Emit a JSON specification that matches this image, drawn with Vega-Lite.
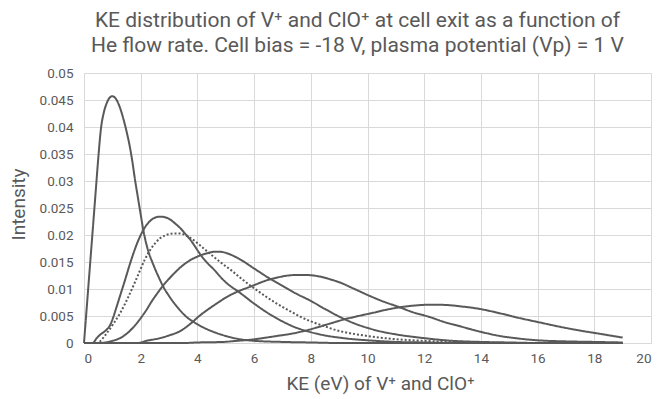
{
  "$schema": "https://vega.github.io/schema/vega-lite/v6.json",
  "width": 567,
  "height": 270,
  "autosize": "none",
  "padding": {"left": 84, "top": 73, "right": 8, "bottom": 56},
  "background": "white",
  "title": {
    "text": ["KE distribution of V⁺ and ClO⁺ at cell exit as a function of", "He flow rate. Cell bias = -18 V, plasma potential (Vp) = 1 V"],
    "font": "Roboto",
    "fontSize": 21,
    "fontWeight": 400,
    "color": "#595959",
    "lineHeight": 25,
    "anchor": "middle",
    "frame": "group",
    "dx": -10,
    "offset": 10
  },
  "config": {
    "view": {"stroke": null},
    "axis": {
      "labelFont": "Roboto",
      "titleFont": "Roboto",
      "labelColor": "#595959",
      "titleColor": "#595959",
      "labelFontSize": 13.5,
      "titleFontSize": 19,
      "titleFontWeight": 400,
      "gridColor": "#d9d9d9",
      "domainColor": "#d9d9d9",
      "ticks": false
    }
  },
  "data": {
    "values": [
      {"series": "A", "ke": 0, "intensity": 0},
      {"series": "A", "ke": 0.1, "intensity": 0.0068},
      {"series": "A", "ke": 0.2, "intensity": 0.0136},
      {"series": "A", "ke": 0.3, "intensity": 0.0204},
      {"series": "A", "ke": 0.4, "intensity": 0.0272},
      {"series": "A", "ke": 0.5, "intensity": 0.034},
      {"series": "A", "ke": 0.6, "intensity": 0.0398},
      {"series": "A", "ke": 0.7, "intensity": 0.0427},
      {"series": "A", "ke": 0.8, "intensity": 0.0444},
      {"series": "A", "ke": 0.9, "intensity": 0.0454},
      {"series": "A", "ke": 1.0, "intensity": 0.0457},
      {"series": "A", "ke": 1.1, "intensity": 0.0454},
      {"series": "A", "ke": 1.2, "intensity": 0.0445},
      {"series": "A", "ke": 1.3, "intensity": 0.0431},
      {"series": "A", "ke": 1.4, "intensity": 0.0413},
      {"series": "A", "ke": 1.5, "intensity": 0.0392},
      {"series": "A", "ke": 1.6, "intensity": 0.0368},
      {"series": "A", "ke": 1.7, "intensity": 0.0338},
      {"series": "A", "ke": 1.8, "intensity": 0.0302},
      {"series": "A", "ke": 1.9, "intensity": 0.027},
      {"series": "A", "ke": 2.0, "intensity": 0.0238},
      {"series": "A", "ke": 2.1, "intensity": 0.0207},
      {"series": "A", "ke": 2.2, "intensity": 0.0183},
      {"series": "A", "ke": 2.3, "intensity": 0.0165},
      {"series": "A", "ke": 2.4, "intensity": 0.0151},
      {"series": "A", "ke": 2.5, "intensity": 0.0138},
      {"series": "A", "ke": 2.6, "intensity": 0.0126},
      {"series": "A", "ke": 2.8, "intensity": 0.0104},
      {"series": "A", "ke": 3.0, "intensity": 0.0087},
      {"series": "A", "ke": 3.3, "intensity": 0.0066},
      {"series": "A", "ke": 3.6, "intensity": 0.0049},
      {"series": "A", "ke": 3.9, "intensity": 0.0038},
      {"series": "A", "ke": 4.2, "intensity": 0.0029},
      {"series": "A", "ke": 4.5, "intensity": 0.0022},
      {"series": "A", "ke": 5.0, "intensity": 0.0013},
      {"series": "A", "ke": 5.5, "intensity": 0.0007},
      {"series": "A", "ke": 6.0, "intensity": 0.0004},
      {"series": "A", "ke": 7.0, "intensity": 0.0002},
      {"series": "A", "ke": 8.0, "intensity": 0.0001},
      {"series": "A", "ke": 9.0, "intensity": 0},
      {"series": "A", "ke": 19.0, "intensity": 0},

      {"series": "B", "ke": 0, "intensity": 0},
      {"series": "B", "ke": 0.3, "intensity": 0},
      {"series": "B", "ke": 0.45, "intensity": 0.0009},
      {"series": "B", "ke": 0.56, "intensity": 0.0015},
      {"series": "B", "ke": 0.74, "intensity": 0.0022},
      {"series": "B", "ke": 0.92, "intensity": 0.0033},
      {"series": "B", "ke": 1.04, "intensity": 0.0049},
      {"series": "B", "ke": 1.15, "intensity": 0.0067},
      {"series": "B", "ke": 1.3, "intensity": 0.0092},
      {"series": "B", "ke": 1.45, "intensity": 0.0117},
      {"series": "B", "ke": 1.6, "intensity": 0.0143},
      {"series": "B", "ke": 1.75, "intensity": 0.0167},
      {"series": "B", "ke": 1.9, "intensity": 0.0188},
      {"series": "B", "ke": 2.03, "intensity": 0.0203},
      {"series": "B", "ke": 2.2, "intensity": 0.0218},
      {"series": "B", "ke": 2.35, "intensity": 0.0227},
      {"series": "B", "ke": 2.5, "intensity": 0.0232},
      {"series": "B", "ke": 2.68, "intensity": 0.0234},
      {"series": "B", "ke": 2.85, "intensity": 0.0233},
      {"series": "B", "ke": 3.03, "intensity": 0.0229},
      {"series": "B", "ke": 3.2, "intensity": 0.0222},
      {"series": "B", "ke": 3.39, "intensity": 0.0213},
      {"series": "B", "ke": 3.56, "intensity": 0.0203},
      {"series": "B", "ke": 3.74, "intensity": 0.0192},
      {"series": "B", "ke": 3.9, "intensity": 0.018},
      {"series": "B", "ke": 4.09, "intensity": 0.0165},
      {"series": "B", "ke": 4.3, "intensity": 0.0151},
      {"series": "B", "ke": 4.62, "intensity": 0.0134},
      {"series": "B", "ke": 4.8, "intensity": 0.0123},
      {"series": "B", "ke": 5.1, "intensity": 0.0108},
      {"series": "B", "ke": 5.45, "intensity": 0.0095},
      {"series": "B", "ke": 6.0, "intensity": 0.0073},
      {"series": "B", "ke": 6.5, "intensity": 0.0055},
      {"series": "B", "ke": 7.0, "intensity": 0.004},
      {"series": "B", "ke": 7.5, "intensity": 0.0028},
      {"series": "B", "ke": 8.0, "intensity": 0.002},
      {"series": "B", "ke": 8.5, "intensity": 0.0014},
      {"series": "B", "ke": 9.0, "intensity": 0.001},
      {"series": "B", "ke": 9.5, "intensity": 0.0007},
      {"series": "B", "ke": 10.0, "intensity": 0.0005},
      {"series": "B", "ke": 11.0, "intensity": 0.0002},
      {"series": "B", "ke": 12.0, "intensity": 0.0001},
      {"series": "B", "ke": 13.0, "intensity": 0},
      {"series": "B", "ke": 19.0, "intensity": 0},

      {"series": "C", "ke": 0, "intensity": 0},
      {"series": "C", "ke": 0.45, "intensity": 0},
      {"series": "C", "ke": 0.8, "intensity": 0.0018},
      {"series": "C", "ke": 1.04, "intensity": 0.0036},
      {"series": "C", "ke": 1.27, "intensity": 0.0055},
      {"series": "C", "ke": 1.56, "intensity": 0.0085},
      {"series": "C", "ke": 1.8, "intensity": 0.0113},
      {"series": "C", "ke": 1.98, "intensity": 0.0135},
      {"series": "C", "ke": 2.15, "intensity": 0.0155},
      {"series": "C", "ke": 2.33, "intensity": 0.0172},
      {"series": "C", "ke": 2.5, "intensity": 0.0184},
      {"series": "C", "ke": 2.68, "intensity": 0.0194},
      {"series": "C", "ke": 2.85, "intensity": 0.0199},
      {"series": "C", "ke": 3.03, "intensity": 0.0202},
      {"series": "C", "ke": 3.2, "intensity": 0.0203},
      {"series": "C", "ke": 3.39, "intensity": 0.0203},
      {"series": "C", "ke": 3.56, "intensity": 0.02},
      {"series": "C", "ke": 3.74, "intensity": 0.0195},
      {"series": "C", "ke": 4.0, "intensity": 0.0185},
      {"series": "C", "ke": 4.2, "intensity": 0.0176},
      {"series": "C", "ke": 4.5, "intensity": 0.0163},
      {"series": "C", "ke": 4.8, "intensity": 0.015},
      {"series": "C", "ke": 5.21, "intensity": 0.0134},
      {"series": "C", "ke": 5.6, "intensity": 0.0117},
      {"series": "C", "ke": 6.09, "intensity": 0.0098},
      {"series": "C", "ke": 6.5, "intensity": 0.0083},
      {"series": "C", "ke": 6.8, "intensity": 0.0073},
      {"series": "C", "ke": 7.2, "intensity": 0.0061},
      {"series": "C", "ke": 7.62, "intensity": 0.0049},
      {"series": "C", "ke": 8.0, "intensity": 0.004},
      {"series": "C", "ke": 8.44, "intensity": 0.0032},
      {"series": "C", "ke": 8.7, "intensity": 0.0027},
      {"series": "C", "ke": 9.03, "intensity": 0.0022},
      {"series": "C", "ke": 9.5, "intensity": 0.0017},
      {"series": "C", "ke": 10.0, "intensity": 0.0013},
      {"series": "C", "ke": 11.0, "intensity": 0.0007},
      {"series": "C", "ke": 12.0, "intensity": 0.0004},
      {"series": "C", "ke": 13.0, "intensity": 0.0002},
      {"series": "C", "ke": 14.0, "intensity": 0.0001},
      {"series": "C", "ke": 15.0, "intensity": 0},
      {"series": "C", "ke": 19.0, "intensity": 0},

      {"series": "D", "ke": 0, "intensity": 0},
      {"series": "D", "ke": 0.56, "intensity": 0},
      {"series": "D", "ke": 1.0, "intensity": 0.0004},
      {"series": "D", "ke": 1.27, "intensity": 0.0009},
      {"series": "D", "ke": 1.5, "intensity": 0.0017},
      {"series": "D", "ke": 1.74, "intensity": 0.0029},
      {"series": "D", "ke": 2.0, "intensity": 0.0046},
      {"series": "D", "ke": 2.2, "intensity": 0.0061},
      {"series": "D", "ke": 2.4, "intensity": 0.0078},
      {"series": "D", "ke": 2.6, "intensity": 0.0093},
      {"series": "D", "ke": 2.8, "intensity": 0.0107},
      {"series": "D", "ke": 3.0, "intensity": 0.0119},
      {"series": "D", "ke": 3.2, "intensity": 0.013},
      {"series": "D", "ke": 3.4, "intensity": 0.014},
      {"series": "D", "ke": 3.62, "intensity": 0.0149},
      {"series": "D", "ke": 3.8, "intensity": 0.0155},
      {"series": "D", "ke": 4.0, "intensity": 0.016},
      {"series": "D", "ke": 4.2, "intensity": 0.0164},
      {"series": "D", "ke": 4.4, "intensity": 0.0167},
      {"series": "D", "ke": 4.6, "intensity": 0.0169},
      {"series": "D", "ke": 4.8, "intensity": 0.0169},
      {"series": "D", "ke": 5.0, "intensity": 0.0167},
      {"series": "D", "ke": 5.2, "intensity": 0.0163},
      {"series": "D", "ke": 5.5, "intensity": 0.0155},
      {"series": "D", "ke": 6.0, "intensity": 0.0138},
      {"series": "D", "ke": 6.5, "intensity": 0.0121},
      {"series": "D", "ke": 7.0, "intensity": 0.0106},
      {"series": "D", "ke": 7.5, "intensity": 0.0091},
      {"series": "D", "ke": 8.0, "intensity": 0.0078},
      {"series": "D", "ke": 8.5, "intensity": 0.0063},
      {"series": "D", "ke": 9.0, "intensity": 0.0049},
      {"series": "D", "ke": 9.5, "intensity": 0.0037},
      {"series": "D", "ke": 10.0, "intensity": 0.0028},
      {"series": "D", "ke": 10.5, "intensity": 0.0021},
      {"series": "D", "ke": 11.0, "intensity": 0.0016},
      {"series": "D", "ke": 12.0, "intensity": 0.0009},
      {"series": "D", "ke": 13.0, "intensity": 0.0004},
      {"series": "D", "ke": 14.0, "intensity": 0.0002},
      {"series": "D", "ke": 15.0, "intensity": 0.0001},
      {"series": "D", "ke": 16.0, "intensity": 0},
      {"series": "D", "ke": 19.0, "intensity": 0},

      {"series": "E", "ke": 0, "intensity": 0},
      {"series": "E", "ke": 1.9, "intensity": 0},
      {"series": "E", "ke": 2.2, "intensity": 0.0004},
      {"series": "E", "ke": 2.68, "intensity": 0.0009},
      {"series": "E", "ke": 3.0, "intensity": 0.0014},
      {"series": "E", "ke": 3.39, "intensity": 0.0022},
      {"series": "E", "ke": 3.74, "intensity": 0.0035},
      {"series": "E", "ke": 4.09, "intensity": 0.0051},
      {"series": "E", "ke": 4.62, "intensity": 0.0071},
      {"series": "E", "ke": 5.0, "intensity": 0.0084},
      {"series": "E", "ke": 5.45, "intensity": 0.0096},
      {"series": "E", "ke": 5.8, "intensity": 0.0103},
      {"series": "E", "ke": 6.09, "intensity": 0.0109},
      {"series": "E", "ke": 6.5, "intensity": 0.0117},
      {"series": "E", "ke": 6.8, "intensity": 0.0121},
      {"series": "E", "ke": 7.2, "intensity": 0.0125},
      {"series": "E", "ke": 7.5, "intensity": 0.0126},
      {"series": "E", "ke": 7.8, "intensity": 0.0126},
      {"series": "E", "ke": 8.32, "intensity": 0.0123},
      {"series": "E", "ke": 8.68, "intensity": 0.0118},
      {"series": "E", "ke": 9.03, "intensity": 0.0112},
      {"series": "E", "ke": 9.5, "intensity": 0.0101},
      {"series": "E", "ke": 10.0, "intensity": 0.0089},
      {"series": "E", "ke": 10.5, "intensity": 0.0078},
      {"series": "E", "ke": 11.14, "intensity": 0.0066},
      {"series": "E", "ke": 11.6, "intensity": 0.0057},
      {"series": "E", "ke": 12.2, "intensity": 0.0048},
      {"series": "E", "ke": 12.7, "intensity": 0.0039},
      {"series": "E", "ke": 13.26, "intensity": 0.0031},
      {"series": "E", "ke": 13.97, "intensity": 0.0021},
      {"series": "E", "ke": 14.67, "intensity": 0.0013},
      {"series": "E", "ke": 15.38, "intensity": 0.0008},
      {"series": "E", "ke": 16.0, "intensity": 0.0005},
      {"series": "E", "ke": 17.0, "intensity": 0.0003},
      {"series": "E", "ke": 18.0, "intensity": 0.0002},
      {"series": "E", "ke": 19.0, "intensity": 0.0001},

      {"series": "F", "ke": 0, "intensity": 0},
      {"series": "F", "ke": 3.5, "intensity": 0},
      {"series": "F", "ke": 4.0, "intensity": 0.0001},
      {"series": "F", "ke": 4.91, "intensity": 0.0002},
      {"series": "F", "ke": 5.4, "intensity": 0.0004},
      {"series": "F", "ke": 5.86, "intensity": 0.0006},
      {"series": "F", "ke": 6.3, "intensity": 0.0009},
      {"series": "F", "ke": 6.8, "intensity": 0.0013},
      {"series": "F", "ke": 7.3, "intensity": 0.0017},
      {"series": "F", "ke": 7.74, "intensity": 0.0022},
      {"series": "F", "ke": 8.3, "intensity": 0.003},
      {"series": "F", "ke": 8.68, "intensity": 0.0036},
      {"series": "F", "ke": 9.2, "intensity": 0.0044},
      {"series": "F", "ke": 9.6, "intensity": 0.0049},
      {"series": "F", "ke": 10.2, "intensity": 0.0056},
      {"series": "F", "ke": 10.7, "intensity": 0.0062},
      {"series": "F", "ke": 11.26, "intensity": 0.0067},
      {"series": "F", "ke": 11.8, "intensity": 0.007},
      {"series": "F", "ke": 12.3, "intensity": 0.0071},
      {"series": "F", "ke": 12.9, "intensity": 0.007},
      {"series": "F", "ke": 13.26, "intensity": 0.0068},
      {"series": "F", "ke": 13.97, "intensity": 0.0063},
      {"series": "F", "ke": 14.67, "intensity": 0.0055},
      {"series": "F", "ke": 15.38, "intensity": 0.0046},
      {"series": "F", "ke": 16.08, "intensity": 0.0038},
      {"series": "F", "ke": 16.79, "intensity": 0.003},
      {"series": "F", "ke": 17.5, "intensity": 0.0023},
      {"series": "F", "ke": 18.2, "intensity": 0.0017},
      {"series": "F", "ke": 19.0, "intensity": 0.001}
    ]
  },
  "mark": {"type": "line", "interpolate": "monotone", "color": "#595959", "strokeWidth": 2},
  "encoding": {
    "x": {
      "field": "ke",
      "type": "quantitative",
      "scale": {"domain": [0, 20], "nice": false},
      "axis": {
        "values": [0, 2, 4, 6, 8, 10, 12, 14, 16, 18, 20],
        "title": "KE (eV) of V⁺ and ClO⁺",
        "labelPadding": 8,
        "titleX": 296,
        "titleY": 40,
        "titleAlign": "center",
        "titleBaseline": "middle"
      }
    },
    "y": {
      "field": "intensity",
      "type": "quantitative",
      "scale": {"domain": [0, 0.05], "nice": false},
      "axis": {
        "values": [0, 0.005, 0.01, 0.015, 0.02, 0.025, 0.03, 0.035, 0.04, 0.045, 0.05],
        "format": ".3~f",
        "title": "Intensity",
        "labelPadding": 11,
        "titleX": -66,
        "titleY": 131,
        "titleAngle": 270,
        "titleAlign": "center",
        "titleBaseline": "middle"
      }
    },
    "detail": {"field": "series", "type": "nominal"},
    "strokeDash": {
      "field": "series",
      "type": "nominal",
      "scale": {"domain": ["A", "B", "C", "D", "E", "F"], "range": [[1, 0], [1, 0], [2, 2], [1, 0], [1, 0], [1, 0]]},
      "legend": null
    }
  }
}
